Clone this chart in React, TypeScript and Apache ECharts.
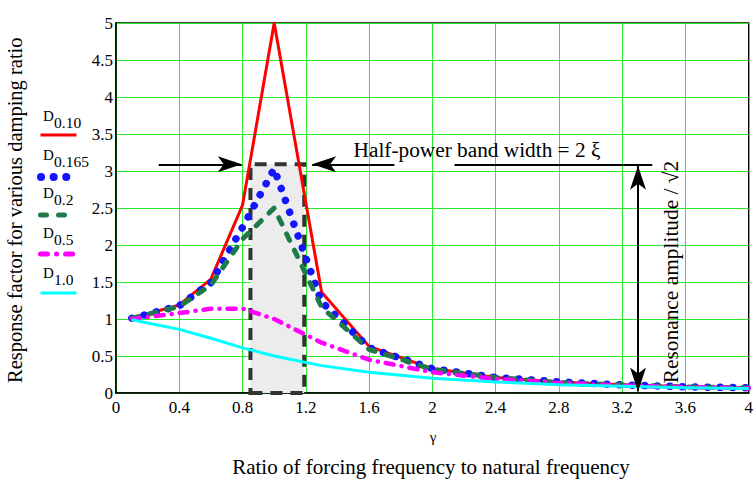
import React, { useEffect, useRef } from "react";
import * as echarts from "echarts";

// ---- data ----
const gamma = [0.1, 0.4, 0.6, 0.8, 1.0, 1.3, 1.6, 2.0, 2.4, 2.8, 3.2, 3.6, 4.0];
const d010 = [1.01, 1.19, 1.54, 2.54, 5.0, 1.36, 0.63, 0.33, 0.21, 0.15, 0.11, 0.085, 0.07];
const d0165 = [1.01, 1.18, 1.49, 2.24, 3.03, 1.23, 0.61, 0.33, 0.21, 0.15, 0.11, 0.084, 0.07];
const d02 = [1.01, 1.17, 1.46, 2.08, 2.5, 1.16, 0.59, 0.32, 0.21, 0.14, 0.11, 0.083, 0.068];
const d05 = [1.0, 1.08, 1.14, 1.14, 1.0, 0.68, 0.45, 0.28, 0.19, 0.135, 0.1, 0.08, 0.065];
const d10 = [0.99, 0.86, 0.74, 0.61, 0.5, 0.37, 0.28, 0.2, 0.15, 0.11, 0.09, 0.07, 0.06];

const xTicks = [0, 0.4, 0.8, 1.2, 1.6, 2, 2.4, 2.8, 3.2, 3.6, 4];
const yTicks = [0, 0.5, 1, 1.5, 2, 2.5, 3, 3.5, 4, 4.5, 5];

// annotation values (data units)
const bandLo = 0.85;
const bandHi = 1.19;
const halfPowerLevel = 3.09;
const resonanceX = 3.3;

const SERIF = "Liberation Serif";

const toPairs = (ys: number[]) => gamma.map((g, i) => [g, ys[i]]);

export default function App() {
  const ref = useRef<HTMLDivElement>(null);
  useEffect(() => {
    if (!ref.current) return;
    const chart = echarts.init(ref.current, null, { renderer: "svg" });
    const gridGreen = "#2bea2b";

    const legendItems = [
      { sub: "0.10", y: 116, lineY: 135, color: "#ff0000", dash: null as number[] | null, width: 3 },
      { sub: "0.165", y: 155, lineY: 177, color: "#1414ff", dash: [0.1, 12.5], width: 8 },
      { sub: "0.2", y: 193, lineY: 215, color: "#1f7a4a", dash: [6, 12], width: 5 },
      { sub: "0.5", y: 233, lineY: 254, color: "#ff00ff", dash: [7, 9, 0.1, 9], width: 5 },
      { sub: "1.0", y: 273, lineY: 293, color: "#00ffff", dash: null, width: 3 },
    ];

    const legendGraphics: any[] = [];
    legendItems.forEach((it) => {
      legendGraphics.push({
        type: "text",
        x: 43,
        y: it.y,
        style: { text: "D", fontSize: 15, fontFamily: SERIF, fill: "#000", align: "left", verticalAlign: "middle" },
      });
      legendGraphics.push({
        type: "text",
        x: 54,
        y: it.y + 6,
        style: { text: it.sub, fontSize: 15.5, fontFamily: SERIF, fill: "#000", align: "left", verticalAlign: "middle" },
      });
      const dotted = it.dash && it.dash[0] < 1 && it.dash.length === 2;
      legendGraphics.push({
        type: "line",
        shape: { x1: dotted ? 41 : 40.5, y1: it.lineY, x2: dotted ? 67 : 76.5, y2: it.lineY },
        style: {
          stroke: it.color,
          lineWidth: it.width,
          lineDash: it.dash || undefined,
          lineCap: it.dash ? "round" : "butt",
        },
      });
    });

    const option: any = {
      animation: false,
      backgroundColor: "#fff",
      textStyle: { fontFamily: SERIF },
      grid: {
        left: 116,
        right: 6,
        top: 23,
        bottom: 88,
        show: true,
        borderColor: "#000",
        borderWidth: 1.5,
        backgroundColor: "transparent",
      },
      xAxis: {
        type: "value",
        min: 0,
        max: 4,
        interval: 0.4,
        axisLine: { show: true, lineStyle: { color: "#000", width: 1.5 } },
        axisTick: { show: false },
        splitLine: { show: true, lineStyle: { color: gridGreen, width: 1 } },
        axisLabel: {
          color: "#000",
          fontFamily: SERIF,
          fontSize: 17,
          margin: 6,
          showMaxLabel: true,
          showMinLabel: true,
          formatter: (v: number) => {
            const t = xTicks.find((k) => Math.abs(k - v) < 1e-6);
            return t === undefined ? "" : String(t);
          },
        },
      },
      yAxis: {
        type: "value",
        min: 0,
        max: 5,
        interval: 0.5,
        axisLine: { show: true, lineStyle: { color: "#000", width: 1.5 } },
        axisTick: { show: false },
        splitLine: { show: true, lineStyle: { color: gridGreen, width: 1 } },
        axisLabel: {
          color: "#000",
          fontFamily: SERIF,
          fontSize: 17,
          margin: 3,
          showMaxLabel: true,
          formatter: (v: number) => {
            const t = yTicks.find((k) => Math.abs(k - v) < 1e-6);
            return t === undefined ? "" : String(t);
          },
        },
      },
      series: [
        {
          name: "D0.10",
          type: "line",
          data: toPairs(d010),
          symbol: "none",
          lineStyle: { color: "#ff0000", width: 3, join: "round" },
          z: 3,
          markArea: {
            silent: true,
            itemStyle: {
              color: "#ececec",
              borderColor: "#333333",
              borderWidth: 4,
              borderType: [12, 8],
            },
            data: [[{ xAxis: bandLo, yAxis: 0 }, { xAxis: bandHi, yAxis: halfPowerLevel }]],
          },
        },
        {
          name: "D0.165",
          type: "line",
          data: toPairs(d0165),
          symbol: "none",
          lineStyle: { color: "#1414ff", width: 7.5, type: [0.1, 12.5], cap: "round", join: "round" },
          z: 3,
        },
        {
          name: "D0.2",
          type: "line",
          data: toPairs(d02),
          symbol: "none",
          lineStyle: { color: "#1f7a4a", width: 5, type: [7, 11], cap: "round", join: "round" },
          z: 3,
        },
        {
          name: "D0.5",
          type: "line",
          data: toPairs(d05),
          symbol: "none",
          lineStyle: { color: "#ff00ff", width: 4.5, type: [8, 8, 0.1, 8], cap: "round", join: "round" },
          z: 3,
        },
        {
          name: "D1.0",
          type: "line",
          data: toPairs(d10),
          symbol: "none",
          lineStyle: { color: "#00ffff", width: 3, join: "round" },
          z: 3,
          markLine: {
            silent: true,
            animation: false,
            label: { show: false },
            lineStyle: { color: "#000", width: 2, type: "solid" },
            symbolSize: [12, 24],
            data: [
              [
                { coord: [0.27, halfPowerLevel], symbol: "none" },
                { coord: [0.795, halfPowerLevel], symbol: "arrow" },
              ],
              [
                { coord: [1.76, halfPowerLevel], symbol: "none" },
                { coord: [1.24, halfPowerLevel], symbol: "arrow" },
              ],
              [
                { coord: [2.14, halfPowerLevel], symbol: "none" },
                { coord: [3.39, halfPowerLevel], symbol: "none" },
              ],
              [
                { coord: [resonanceX, halfPowerLevel - 0.02], symbol: "arrow" },
                { coord: [resonanceX, 0.02], symbol: "arrow" },
              ],
            ],
          },
        },
      ],
      graphic: [
        ...legendGraphics,
        {
          type: "text",
          x: 15,
          y: 383,
          rotation: Math.PI / 2,
          style: {
            text: "Response factor for various damping ratio",
            fontSize: 20.5,
            fontFamily: SERIF,
            fill: "#000",
            align: "left",
            verticalAlign: "middle",
          },
        },
        {
          type: "text",
          x: 433,
          y: 437,
          style: { text: "γ", fontSize: 15, fontFamily: SERIF, fill: "#000", align: "center", verticalAlign: "middle" },
        },
        {
          type: "text",
          x: 431,
          y: 467,
          style: {
            text: "Ratio of forcing frequency to natural frequency",
            fontSize: 21,
            fontFamily: SERIF,
            fill: "#000",
            align: "center",
            verticalAlign: "middle",
          },
        },
        {
          type: "text",
          x: 477,
          y: 150,
          z: 10,
          style: {
            text: "Half-power band width = 2 ξ",
            fontSize: 21.3,
            fontFamily: SERIF,
            fill: "#000",
            align: "center",
            verticalAlign: "middle",
          },
        },
        {
          type: "text",
          x: 671,
          y: 272,
          z: 10,
          rotation: Math.PI / 2,
          style: {
            text: "Resonance amplitude / √2",
            fontSize: 21.4,
            fontFamily: SERIF,
            fill: "#000",
            align: "center",
            verticalAlign: "middle",
          },
        },
      ],
    };
    chart.setOption(option);
    return () => chart.dispose();
  }, []);
  return (
    <div
      ref={ref}
      style={{ position: "fixed", left: 0, top: 0, width: 756, height: 481, background: "#fff" }}
    />
  );
}
